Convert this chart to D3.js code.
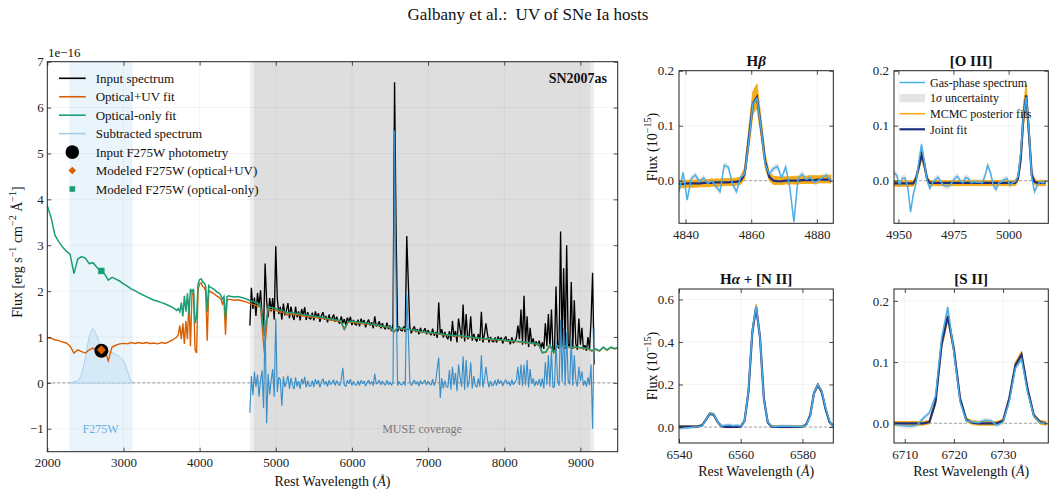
<!DOCTYPE html>
<html><head><meta charset="utf-8">
<script src="https://cdn.jsdelivr.net/npm/d3@7/dist/d3.min.js"></script>
<style>
html,body{margin:0;padding:0;background:#fff;}
svg{display:block;}
text{font-family:"Liberation Serif","Times New Roman",serif;}
</style></head>
<body>
<svg id="chart" width="1056" height="497"></svg>
<script>
// ================= DATA =================
// Main panel: model fits on a shared wavelength grid (Angstrom)
const fitWave = [].concat(d3.range(2000, 3701, 50), d3.range(3720, 4401, 20), d3.range(4450, 9501, 50));
const fitOptUV = [
  0.98,0.97,0.94,0.92,0.89,0.87,0.80,0.65,0.72,0.68,
  0.65,0.72,0.76,0.70,0.72,0.74,0.48,0.78,0.82,0.85,
  0.86,0.85,0.88,0.86,0.88,0.86,0.88,0.86,0.87,0.85,
  0.88,0.86,0.90,0.94,1.00,
  1.05,1.25,0.95,1.30,0.85,1.35,0.95,1.80,0.80,1.95,
  1.95,0.72,0.65,2.05,2.15,2.18,2.10,2.08,2.00,0.92,
  2.02,1.98,1.97,1.95,1.93,1.90,1.88,1.86,1.82,1.72,
  1.80,1.05,1.80,1.82,1.82,
  1.80,1.81,1.79,1.77,1.74,1.71,1.68,1.65,0.65,1.61,
  1.59,1.58,1.55,1.53,1.48,1.51,1.49,1.48,1.46,1.45,
  1.44,1.43,1.42,1.41,1.40,1.38,1.36,1.35,1.34,1.16,
  1.32,1.32,1.31,1.30,1.29,1.28,1.27,1.26,1.24,1.23,
  1.22,1.21,1.10,1.19,1.18,1.17,1.16,1.14,1.13,1.11,
  1.10,1.09,1.08,1.07,1.06,1.05,1.04,1.03,1.02,1.02,
  1.01,1.00,0.99,0.98,0.97,0.96,0.95,0.95,0.94,0.94,
  0.93,0.92,0.91,0.91,0.90,0.89,0.88,0.87,0.86,0.85,
  0.84,0.65,0.67,0.82,0.65,0.80,0.79,0.79,0.78,0.77,
  0.77,0.76,0.75,0.74,0.69,0.73,0.69,0.77,0.71,0.77,
  0.74,0.76
];
const fitOptOnly = [
  3.86,3.60,3.22,3.08,2.96,2.87,2.80,2.38,2.70,2.75,
  2.72,2.60,2.62,2.52,2.44,2.38,2.24,2.30,2.26,2.22,
  2.16,2.11,2.05,2.01,1.96,1.92,1.88,1.84,1.80,1.78,
  1.75,1.72,1.68,1.64,1.58,
  1.62,1.55,1.75,1.45,1.90,1.55,1.95,1.50,2.05,1.98,
  2.05,1.30,1.45,2.15,2.25,2.27,2.20,2.18,2.10,1.55,
  2.12,2.08,2.07,2.05,2.03,1.99,1.97,1.95,1.90,1.82,
  1.88,1.40,1.88,1.90,1.89,
  1.87,1.88,1.86,1.84,1.80,1.77,1.74,1.70,1.02,1.66,
  1.64,1.62,1.59,1.57,1.52,1.54,1.52,1.51,1.49,1.48,
  1.47,1.46,1.44,1.43,1.42,1.40,1.38,1.37,1.36,1.18,
  1.34,1.34,1.33,1.32,1.31,1.30,1.28,1.27,1.25,1.24,
  1.23,1.22,1.12,1.20,1.19,1.18,1.17,1.15,1.14,1.12,
  1.11,1.10,1.09,1.08,1.07,1.06,1.05,1.04,1.03,1.03,
  1.02,1.01,1.00,0.99,0.98,0.97,0.96,0.96,0.95,0.95,
  0.94,0.93,0.92,0.92,0.91,0.90,0.89,0.88,0.87,0.86,
  0.85,0.66,0.68,0.83,0.66,0.81,0.80,0.80,0.79,0.78,
  0.78,0.77,0.76,0.75,0.70,0.74,0.70,0.78,0.72,0.78,
  0.75,0.77
];
// MUSE spectrum sampled every 20 A from 4660 A (units 1e-16)
const specStart = 4660, specStep = 20;
const inputSpectrum = [
  1.25,2.07,1.61,1.86,1.46,1.96,1.68,2.02,1.47,1.15,
  2.60,1.79,1.43,1.85,1.56,1.85,1.38,2.98,1.84,1.50,
  1.66,1.38,1.73,1.47,1.58,1.74,1.41,1.66,1.47,1.37,
  1.66,1.43,1.56,1.36,1.61,1.47,1.65,1.37,1.54,1.41,
  1.39,1.53,1.36,1.56,1.42,1.52,1.33,1.47,1.54,1.38,
  1.46,1.32,1.49,1.36,1.41,1.49,1.33,1.44,1.34,1.29,
  1.45,1.30,1.39,1.26,1.42,1.33,1.44,1.26,1.37,1.28,
  1.26,1.38,1.23,1.40,1.29,1.37,1.21,1.32,1.38,1.25,
  1.32,1.19,1.45,1.23,1.27,1.34,1.19,1.30,1.21,1.17,
  1.31,1.17,1.25,1.13,1.28,6.55,3.30,1.12,1.23,1.15,
  1.13,1.23,1.11,3.20,2.20,1.22,1.08,1.17,1.23,1.11,
  1.17,1.06,1.20,1.09,1.13,1.19,1.06,1.15,1.08,1.04,
  1.18,1.03,1.11,0.98,1.75,1.06,1.17,0.99,1.11,1.01,
  0.95,1.13,0.91,1.35,1.00,1.13,0.88,1.40,1.17,0.97,
  1.71,0.90,1.50,0.95,1.03,1.45,0.92,1.07,0.96,0.90,
  1.07,0.92,1.55,0.88,1.05,1.30,1.06,0.88,1.00,0.91,
  0.89,0.99,0.88,1.01,0.92,0.99,0.86,0.95,1.01,0.90,
  0.95,0.84,0.99,0.87,0.91,0.98,1.25,0.95,1.60,0.83,
  1.90,0.84,1.45,0.78,1.20,0.86,0.97,0.80,0.90,0.82,
  0.92,0.75,0.88,0.74,1.30,0.80,1.50,0.76,1.60,0.72,
  0.70,2.10,0.86,0.75,3.30,0.82,2.50,0.74,3.00,0.85,
  0.76,2.20,0.74,1.80,0.85,0.72,1.40,0.83,1.20,0.73,
  0.82,0.70,1.00,0.74,1.35,2.40,0.40
];
const subtractedSpectrum = [
  -0.65,0.15,-0.27,0.24,-0.09,0.18,-0.30,0.06,0.27,-0.55,
  1.35,-0.88,0.20,-0.25,0.05,0.30,-0.30,1.40,-0.20,0.12,
  0.07,-0.50,0.14,-0.09,0.02,0.16,-0.13,0.11,-0.05,-0.14,
  0.12,-0.08,0.04,-0.13,0.09,-0.03,0.13,-0.10,0.05,-0.07,
  -0.07,0.05,-0.09,0.08,-0.03,0.06,-0.10,0.02,0.09,-0.04,
  0.03,-0.08,0.06,-0.04,0.01,0.07,-0.06,0.05,-0.02,-0.06,
  0.07,0.33,-0.05,-0.08,0.06,-0.02,0.08,-0.06,0.03,-0.04,
  -0.05,0.04,-0.06,0.06,-0.02,0.04,-0.07,0.01,0.06,-0.03,
  0.03,-0.06,0.20,-0.03,0.01,0.06,-0.04,0.04,-0.02,-0.05,
  0.06,-0.04,0.02,-0.06,0.04,5.50,2.00,-0.06,0.03,-0.04,
  -0.04,0.03,-0.06,1.95,1.10,0.04,-0.06,0.01,0.06,-0.03,
  0.03,-0.07,0.05,-0.03,0.01,0.06,-0.05,0.04,-0.02,-0.05,
  0.08,-0.06,0.03,0.30,0.55,-0.33,0.10,-0.12,0.05,-0.08,
  -0.10,0.28,-0.15,0.35,-0.05,0.22,-0.18,0.40,0.12,-0.08,
  0.58,-0.15,0.50,-0.10,0.05,0.45,-0.12,0.15,-0.05,-0.10,
  0.10,-0.08,0.60,-0.10,0.08,0.35,0.07,-0.10,0.04,-0.06,
  -0.05,0.06,-0.06,0.08,-0.02,0.05,-0.07,0.02,0.07,-0.03,
  0.03,-0.07,0.07,-0.04,0.01,0.06,0.35,-0.05,0.40,-0.07,
  0.40,-0.05,0.50,-0.10,0.30,-0.02,0.10,-0.07,0.04,-0.05,
  0.08,-0.08,0.10,-0.12,0.45,-0.04,0.60,-0.08,0.70,-0.10,
  -0.08,0.90,0.05,-0.06,1.38,0.02,1.20,-0.07,1.10,0.04,
  -0.03,0.95,-0.06,0.60,0.06,-0.08,0.35,0.04,0.25,-0.06,
  0.05,-0.08,0.12,-0.05,0.40,-1.00,1.20
];
// F275W filter throughput (scaled) and shaded regions
const filterWave = [2300,2350,2400,2450,2500,2550,2600,2650,2700,2750,2800,2850,2900,2950,3000,3050,3100,3130];
const filterThroughput = [0,0.02,0.05,0.20,0.55,1.00,1.18,1.02,0.80,0.72,0.69,0.66,0.62,0.57,0.48,0.27,0.05,0];
const filterBand = [2290, 3120];
const museBand = [4660, 9182];
const museCore = [4713, 9135];
// Photometry point
const photWave = 2710;
const photInput = 0.70, photOptUV = 0.72, photOptOnly = 2.44;
// Main ticks
const mainXTicks = [2000,3000,4000,5000,6000,7000,8000,9000];
const mainYTicks = [-1,0,1,2,3,4,5,6,7];

// Emission-line panels (units 1e-15), sampled every 1.25 A
const lineStep = 1.25;
const hbStart = 4838.0;
const hbGas   = [-0.020,0.015,-0.035,0.004,0.010,-0.002,0.005,-0.005,0.000,-0.010,-0.020,0.028,0.025,-0.005,-0.020,0.006,0.012,0.070,0.140,0.150,0.095,0.030,0.012,0.022,0.026,0.005,0.025,-0.012,-0.075,0.004,0.012,0.002,0.006,-0.003,0.000,0.006,0.010,-0.002];
const hbJoint = [-0.006,-0.006,-0.005,-0.005,-0.005,-0.005,-0.004,-0.004,-0.004,-0.003,-0.003,-0.003,-0.003,-0.002,-0.002,0.000,0.012,0.075,0.140,0.152,0.095,0.035,0.007,0.000,-0.001,-0.001,0.000,0.000,0.000,0.000,0.001,0.001,0.001,0.001,0.002,0.002,0.002,0.002];
const hbLo    = [-0.013,-0.013,-0.012,-0.012,-0.012,-0.011,-0.011,-0.011,-0.010,-0.010,-0.010,-0.009,-0.009,-0.009,-0.008,-0.007,0.003,0.058,0.120,0.133,0.080,0.024,0.000,-0.007,-0.007,-0.007,-0.006,-0.006,-0.006,-0.006,-0.005,-0.005,-0.005,-0.005,-0.004,-0.004,-0.004,-0.004];
const hbHi    = [0.000,0.000,0.001,0.001,0.001,0.002,0.002,0.002,0.003,0.003,0.003,0.004,0.004,0.004,0.005,0.007,0.024,0.094,0.162,0.176,0.114,0.047,0.015,0.008,0.007,0.007,0.007,0.007,0.008,0.008,0.008,0.008,0.009,0.009,0.009,0.009,0.010,0.010];

const o3Start = 4948.0;
const o3Gas   = [0.014,0.010,-0.008,0.004,0.005,-0.012,-0.057,-0.025,-0.005,0.035,0.066,0.035,0.000,-0.014,-0.004,0.002,0.006,-0.002,-0.008,-0.010,-0.009,-0.004,0.004,0.008,0.000,-0.004,0.006,0.004,-0.004,-0.002,-0.003,-0.003,-0.004,0.008,0.028,0.015,-0.008,-0.016,-0.004,-0.002,0.002,0.004,-0.008,-0.004,-0.002,0.008,0.050,0.120,0.152,0.090,0.005,-0.020,-0.008,-0.002,-0.004,-0.003];
const o3Joint = [-0.005,-0.005,-0.005,-0.005,-0.005,-0.005,-0.005,-0.005,0.004,0.025,0.047,0.030,0.004,-0.004,-0.004,-0.004,-0.004,-0.004,-0.004,-0.004,-0.004,-0.004,-0.004,-0.004,-0.004,-0.004,-0.004,-0.004,-0.004,-0.004,-0.004,-0.004,-0.004,-0.004,-0.004,-0.004,-0.004,-0.004,-0.004,-0.004,-0.004,-0.004,-0.004,-0.004,-0.004,0.004,0.040,0.120,0.155,0.085,0.010,-0.002,-0.004,-0.004,-0.004,-0.004];
const o3Lo    = [-0.010,-0.010,-0.010,-0.010,-0.010,-0.010,-0.010,-0.010,-0.002,0.018,0.038,0.022,-0.002,-0.009,-0.009,-0.009,-0.009,-0.009,-0.009,-0.009,-0.009,-0.009,-0.009,-0.009,-0.009,-0.009,-0.009,-0.009,-0.009,-0.009,-0.009,-0.009,-0.009,-0.009,-0.009,-0.009,-0.009,-0.009,-0.009,-0.009,-0.009,-0.009,-0.009,-0.009,-0.009,-0.002,0.030,0.100,0.135,0.070,0.003,-0.007,-0.009,-0.009,-0.009,-0.009];
const o3Hi    = [0.000,0.000,0.000,0.000,0.000,0.000,0.000,0.000,0.008,0.032,0.058,0.038,0.008,0.000,0.000,0.000,0.000,0.000,0.000,0.000,0.000,0.000,0.000,0.000,0.000,0.000,0.000,0.000,0.000,0.000,0.000,0.000,0.000,0.000,0.000,0.000,0.000,0.000,0.000,0.000,0.000,0.000,0.000,0.000,0.000,0.009,0.055,0.140,0.175,0.100,0.018,0.003,0.000,0.000,0.000,0.000];

const haStart = 6540.0;
const haGas   = [-0.005,-0.005,-0.004,-0.002,0.000,0.002,0.005,0.035,0.065,0.060,0.025,0.004,0.008,0.010,0.006,0.008,0.004,0.030,0.170,0.450,0.570,0.420,0.130,0.025,0.004,0.002,0.004,0.005,0.004,0.004,0.002,0.002,0.003,0.010,0.050,0.160,0.200,0.170,0.090,0.030,0.000];
const haJoint = [0.002,0.002,0.002,0.002,0.002,0.003,0.008,0.035,0.063,0.058,0.024,0.004,0.001,0.001,0.001,0.001,0.002,0.030,0.165,0.445,0.565,0.420,0.135,0.022,0.002,0.001,0.001,0.001,0.001,0.001,0.001,0.001,0.002,0.012,0.055,0.160,0.198,0.165,0.085,0.025,0.004];
const haLo    = [-0.002,-0.002,-0.002,-0.002,-0.002,-0.001,0.004,0.030,0.058,0.053,0.020,0.000,-0.003,-0.003,-0.003,-0.003,-0.002,0.024,0.155,0.432,0.552,0.408,0.126,0.017,-0.002,-0.003,-0.003,-0.003,-0.003,-0.003,-0.003,-0.003,-0.002,0.008,0.049,0.152,0.190,0.158,0.079,0.020,0.000];
const haHi    = [0.006,0.006,0.006,0.006,0.006,0.007,0.012,0.040,0.068,0.063,0.028,0.008,0.005,0.005,0.005,0.005,0.006,0.036,0.175,0.458,0.578,0.432,0.144,0.027,0.006,0.005,0.005,0.005,0.005,0.005,0.005,0.005,0.006,0.016,0.061,0.168,0.206,0.172,0.091,0.030,0.008];

const s2Start = 6707.5;
const s2Gas   = [0.000,-0.003,-0.004,-0.005,-0.003,0.008,0.017,0.045,0.140,0.190,0.115,0.035,0.004,0.002,0.001,0.005,0.004,-0.003,0.002,0.035,0.090,0.105,0.050,0.012,0.001,0.000];
const s2Joint = [0.000,0.000,0.000,0.000,0.000,0.000,0.002,0.035,0.130,0.175,0.120,0.040,0.006,0.001,0.000,0.000,0.000,0.000,0.004,0.040,0.095,0.112,0.055,0.013,0.002,0.000];
const s2Lo    = [-0.003,-0.003,-0.003,-0.003,-0.003,-0.003,-0.001,0.030,0.122,0.168,0.114,0.036,0.003,-0.002,-0.003,-0.003,-0.003,-0.003,0.001,0.036,0.090,0.106,0.051,0.010,-0.001,-0.003];
const s2Hi    = [0.003,0.003,0.003,0.003,0.003,0.003,0.005,0.040,0.138,0.182,0.126,0.044,0.009,0.004,0.003,0.003,0.003,0.003,0.007,0.044,0.100,0.118,0.059,0.016,0.005,0.003];

// 1-sigma uncertainty of the gas-phase spectrum per panel (Hb, [OIII], Ha, [SII])
const gasErr = [0.006, 0.006, 0.008, 0.004];

// ================= DRAWING =================
const svg = d3.select('#chart');
const FONT = '"Liberation Serif","Times New Roman",serif';
const C = {black:'#000', orange:'#d95f02', green:'#1b9e77', blue:'#3a8fc8', legBlue:'#a6cde6',
           gas:'#4aaee8', navy:'#1f2f7d', mcmc:'#f5a70a', band:'#e4e4e4', frame:'#222'};

function rich(t, parts, fs) {
  let shift = 0;
  parts.forEach(p => {
    const ts = t.append('tspan').text(p.t);
    const target = p.sup ? -0.42 * fs : 0;
    if (target !== shift) { ts.attr('dy', target - shift); shift = target; }
    if (p.sup) ts.attr('font-size', fs * 0.72);
    if (p.i) ts.attr('font-style', 'italic');
    if (p.b) ts.attr('font-weight', 'bold');
  });
}
const minusFmt = f => d => { const s = f(d); return s.replace('-', '\u2212'); };

function drawGrid(g, x, y, xt, yt) {
  const [x0, x1] = x.range(), [yb, yt0] = y.range();
  const grid = g.append('g');
  grid.selectAll('line.gx').data(xt).join('line').attr('x1', d => x(d)).attr('x2', d => x(d))
    .attr('y1', yt0).attr('y2', yb).attr('stroke', '#000').attr('stroke-opacity', 0.055).attr('stroke-width', 0.8);
  grid.selectAll('line.gy').data(yt).join('line').attr('y1', d => y(d)).attr('y2', d => y(d))
    .attr('x1', x0).attr('x2', x1).attr('stroke', '#000').attr('stroke-opacity', 0.055).attr('stroke-width', 0.8);
  return grid;
}
function drawTicks(g, x, y, xt, yt, xfmt, yfmt, padX, padY) {
  const [x0, x1] = x.range(), [yb, yt0] = y.range();
  const style = a => { a.attr('font-family', FONT).attr('font-size', 13).attr('color', C.frame);
    a.select('.domain').remove(); a.selectAll('line').attr('stroke-width', 0.8); };
  g.append('g').attr('transform', `translate(0,${yb})`)
    .call(d3.axisBottom(x).tickValues(xt).tickSize(-4).tickPadding(padX).tickFormat(xfmt)).call(style);
  g.append('g').attr('transform', `translate(0,${yt0})`)
    .call(d3.axisTop(x).tickValues(xt).tickSize(-4).tickFormat('')).call(style);
  g.append('g').attr('transform', `translate(${x0},0)`)
    .call(d3.axisLeft(y).tickValues(yt).tickSize(-4).tickPadding(padY).tickFormat(yfmt)).call(style);
  g.append('g').attr('transform', `translate(${x1},0)`)
    .call(d3.axisRight(y).tickValues(yt).tickSize(-4).tickFormat('')).call(style);
  g.append('rect').attr('x', x0).attr('y', yt0).attr('width', x1 - x0).attr('height', yb - yt0)
    .attr('fill', 'none').attr('stroke', C.frame).attr('stroke-width', 1);
}
const diamondPath = s => `M0,${-s}L${s},0L0,${s}L${-s},0Z`;

// Title
svg.append('text').attr('x', 528).attr('y', 20).attr('text-anchor', 'middle').attr('font-size', 17)
  .attr('fill', '#111').text('Galbany et al.:\u00a0 UV of SNe Ia hosts');

// ---------- main panel ----------
const M = {l: 47.3, r: 617.7, t: 61.7, b: 451.7};
const xM = d3.scaleLinear().domain([2000, 9490]).range([M.l, M.r]);
const yM = d3.scaleLinear().domain([-1.5, 7]).range([M.b, M.t]);
svg.append('clipPath').attr('id', 'clipMain').append('rect')
  .attr('x', M.l).attr('y', M.t).attr('width', M.r - M.l).attr('height', M.b - M.t);
const gMain = svg.append('g');
const pMain = gMain.append('g').attr('clip-path', 'url(#clipMain)');

pMain.append('rect').attr('x', xM(filterBand[0])).attr('width', xM(filterBand[1]) - xM(filterBand[0]))
  .attr('y', M.t).attr('height', M.b - M.t).attr('fill', '#eaf4fb');
pMain.append('rect').attr('x', xM(museBand[0])).attr('width', xM(museBand[1]) - xM(museBand[0]))
  .attr('y', M.t).attr('height', M.b - M.t).attr('fill', '#eeeeee');
pMain.append('rect').attr('x', xM(museCore[0])).attr('width', xM(museCore[1]) - xM(museCore[0]))
  .attr('y', M.t).attr('height', M.b - M.t).attr('fill', '#dedede');
drawGrid(pMain, xM, yM, mainXTicks, mainYTicks);
pMain.append('line').attr('x1', M.l).attr('x2', M.r).attr('y1', yM(0)).attr('y2', yM(0))
  .attr('stroke', '#8a8a8a').attr('stroke-width', 0.9).attr('stroke-dasharray', '3,2');

// filter curve
pMain.append('path').datum(filterThroughput)
  .attr('d', d3.area().curve(d3.curveMonotoneX).x((v, i) => xM(filterWave[i])).y0(yM(0)).y1(v => yM(v)))
  .attr('fill', '#d6e9f7').attr('stroke', '#a9d0ec').attr('stroke-width', 1);

const specWave = inputSpectrum.map((_, i) => specStart + specStep * i);
const lineMain = (wv) => d3.line().x((v, i) => xM(wv[i])).y(v => yM(v));
pMain.append('path').datum(inputSpectrum).attr('d', lineMain(specWave))
  .attr('fill', 'none').attr('stroke', C.black).attr('stroke-width', 1.35).attr('stroke-linejoin', 'bevel');
pMain.append('path').datum(fitOptUV).attr('d', lineMain(fitWave))
  .attr('fill', 'none').attr('stroke', C.orange).attr('stroke-width', 1.4);
pMain.append('path').datum(fitOptOnly).attr('d', lineMain(fitWave))
  .attr('fill', 'none').attr('stroke', C.green).attr('stroke-width', 1.5);
pMain.append('path').datum(subtractedSpectrum).attr('d', lineMain(specWave))
  .attr('fill', 'none').attr('stroke', C.blue).attr('stroke-width', 1.15).attr('stroke-linejoin', 'bevel');

// photometry markers
pMain.append('circle').attr('cx', xM(photWave)).attr('cy', yM(photInput)).attr('r', 7).attr('fill', '#000');
pMain.append('path').attr('transform', `translate(${xM(photWave)},${yM(photOptUV)})`)
  .attr('d', diamondPath(4.6)).attr('fill', C.orange);
pMain.append('rect').attr('x', xM(photWave) - 3.2).attr('y', yM(photOptOnly) - 3.2)
  .attr('width', 6.4).attr('height', 6.4).attr('fill', C.green);

drawTicks(gMain, xM, yM, mainXTicks, mainYTicks, d3.format('d'), minusFmt(d3.format('d')), 6, 3.5);

// annotations
gMain.append('text').attr('x', xM(2700)).attr('y', 433).attr('text-anchor', 'middle').attr('font-size', 12)
  .attr('fill', '#6aaede').text('F275W');
gMain.append('text').attr('x', xM(6920)).attr('y', 433).attr('text-anchor', 'middle').attr('font-size', 12)
  .attr('fill', '#7a7a7a').text('MUSE coverage');
gMain.append('text').attr('x', 607).attr('y', 83).attr('text-anchor', 'end').attr('font-size', 14)
  .attr('font-weight', 'bold').attr('fill', '#111').text('SN2007as');
gMain.append('text').attr('x', 48).attr('y', 57).attr('font-size', 13).attr('fill', '#111').text('1e\u221216');

// axis labels
rich(gMain.append('text').attr('x', (M.l + M.r) / 2).attr('y', 486).attr('text-anchor', 'middle').attr('font-size', 14).attr('fill', '#111'),
  [{t: 'Rest Wavelength ('}, {t: 'Å', i: true}, {t: ')'}], 14);
rich(gMain.append('text').attr('transform', 'translate(21.5,252) rotate(-90)').attr('text-anchor', 'middle').attr('font-size', 14).attr('fill', '#111'),
  [{t: 'Flux [erg s'}, {t: '\u22121', sup: true}, {t: ' cm'}, {t: '\u22122', sup: true}, {t: ' Å'}, {t: '\u22121', sup: true}, {t: ']'}], 14);

// legend
const legendMain = [
  {label: 'Input spectrum', kind: 'line', color: C.black},
  {label: 'Optical+UV fit', kind: 'line', color: C.orange},
  {label: 'Optical-only fit', kind: 'line', color: C.green},
  {label: 'Subtracted spectrum', kind: 'line', color: C.legBlue},
  {label: 'Input F275W photometry', kind: 'circle', color: '#000'},
  {label: 'Modeled F275W (optical+UV)', kind: 'diamond', color: C.orange},
  {label: 'Modeled F275W (optical-only)', kind: 'square', color: C.green}
];
const lg = gMain.append('g');
legendMain.forEach((it, i) => {
  const yy = 78.3 + 18.45 * i;
  if (it.kind === 'line') lg.append('line').attr('x1', 59).attr('x2', 85.7).attr('y1', yy).attr('y2', yy).attr('stroke', it.color).attr('stroke-width', 1.6);
  if (it.kind === 'circle') lg.append('circle').attr('cx', 72.3).attr('cy', yy).attr('r', 6.8).attr('fill', it.color);
  if (it.kind === 'diamond') lg.append('path').attr('transform', `translate(72.3,${yy})`).attr('d', diamondPath(3.8)).attr('fill', it.color);
  if (it.kind === 'square') lg.append('rect').attr('x', 69.5).attr('y', yy - 2.8).attr('width', 5.6).attr('height', 5.6).attr('fill', it.color);
  lg.append('text').attr('x', 95.7).attr('y', yy).attr('dy', '0.35em').attr('font-size', 13).attr('fill', '#111').text(it.label);
});

// ---------- line panels ----------
const panelLayout = [
  {key: 'hb', x0: 679, x1: 833.3, y0: 70.7, y1: 223.3, xd: [4838, 4885], yd: [-0.0775, 0.2], xt: [4840, 4860, 4880], yt: [0, 0.1, 0.2], ylab: true, xlab: false,
   title: [{t: 'H', b: true}, {t: 'β', b: true, i: true}]},
  {key: 'o3', x0: 894, x1: 1048.3, y0: 70.7, y1: 223.3, xd: [4948, 5018], yd: [-0.0775, 0.2], xt: [4950, 4975, 5000], yt: [0, 0.1, 0.2], ylab: false, xlab: false,
   title: [{t: '[O III]', b: true}]},
  {key: 'ha', x0: 679, x1: 833.3, y0: 289, y1: 443, xd: [6540, 6590], yd: [-0.075, 0.649], xt: [6540, 6560, 6580], yt: [0, 0.2, 0.4, 0.6], ylab: true, xlab: true,
   title: [{t: 'H', b: true}, {t: 'α', b: true, i: true}, {t: ' + [N II]', b: true}]},
  {key: 's2', x0: 894, x1: 1048.3, y0: 289, y1: 443, xd: [6707.8, 6739.2], yd: [-0.0322, 0.2194], xt: [6710, 6720, 6730], yt: [0, 0.1, 0.2], ylab: false, xlab: true,
   title: [{t: '[S II]', b: true}]}
];
const panelData = [
  {start: hbStart, gas: hbGas, joint: hbJoint, lo: hbLo, hi: hbHi, err: gasErr[0]},
  {start: o3Start, gas: o3Gas, joint: o3Joint, lo: o3Lo, hi: o3Hi, err: gasErr[1]},
  {start: haStart, gas: haGas, joint: haJoint, lo: haLo, hi: haHi, err: gasErr[2]},
  {start: s2Start, gas: s2Gas, joint: s2Joint, lo: s2Lo, hi: s2Hi, err: gasErr[3]}
];

panelLayout.forEach((cfg, k) => {
  const d = panelData[k];
  const x = d3.scaleLinear().domain(cfg.xd).range([cfg.x0, cfg.x1]);
  const y = d3.scaleLinear().domain(cfg.yd).range([cfg.y1, cfg.y0]);
  const g = svg.append('g');
  const cid = 'clip-' + cfg.key;
  svg.append('clipPath').attr('id', cid).append('rect').attr('x', cfg.x0).attr('y', cfg.y0)
    .attr('width', cfg.x1 - cfg.x0).attr('height', cfg.y1 - cfg.y0);
  const p = g.append('g').attr('clip-path', `url(#${cid})`);
  drawGrid(p, x, y, cfg.xt, cfg.yt);
  p.append('line').attr('x1', cfg.x0).attr('x2', cfg.x1).attr('y1', y(0)).attr('y2', y(0))
    .attr('stroke', '#9a9a9a').attr('stroke-width', 0.9).attr('stroke-dasharray', '3,2');
  const wave = d.gas.map((_, i) => d.start + lineStep * i);
  p.append('path').datum(d.gas)
    .attr('d', d3.area().x((v, i) => x(wave[i])).y0(v => y(v - d.err)).y1(v => y(v + d.err)))
    .attr('fill', C.band);
  p.append('path').datum(d.lo)
    .attr('d', d3.area().x((v, i) => x(wave[i])).y0(v => y(v)).y1((v, i) => y(d.hi[i])))
    .attr('fill', C.mcmc).attr('stroke', C.mcmc).attr('stroke-width', 1).attr('opacity', 0.95);
  p.append('path').datum(d.joint).attr('d', d3.line().x((v, i) => x(wave[i])).y(v => y(v)))
    .attr('fill', 'none').attr('stroke', C.navy).attr('stroke-width', 2.2);
  p.append('path').datum(d.gas).attr('d', d3.line().x((v, i) => x(wave[i])).y(v => y(v)))
    .attr('fill', 'none').attr('stroke', C.gas).attr('stroke-width', 1.5);
  drawTicks(g, x, y, cfg.xt, cfg.yt, d3.format('d'), minusFmt(d3.format('.1f')), 6.5, 5);
  rich(g.append('text').attr('x', (cfg.x0 + cfg.x1) / 2).attr('y', cfg.y0 - 5).attr('text-anchor', 'middle')
    .attr('font-size', 15).attr('fill', '#111'), cfg.title, 15);
  if (cfg.ylab) rich(g.append('text').attr('transform', `translate(657,${(cfg.y0 + cfg.y1) / 2}) rotate(-90)`)
    .attr('text-anchor', 'middle').attr('font-size', 14).attr('fill', '#111'),
    [{t: 'Flux (10'}, {t: '\u221215', sup: true}, {t: ')'}], 14);
  if (cfg.xlab) rich(g.append('text').attr('x', (cfg.x0 + cfg.x1) / 2).attr('y', 476).attr('text-anchor', 'middle')
    .attr('font-size', 14).attr('fill', '#111'), [{t: 'Rest Wavelength ('}, {t: 'Å', i: true}, {t: ')'}], 14);
});

// legend in [O III] panel
const legendLines = [
  {label: [{t: 'Gas-phase spectrum'}], kind: 'line', color: C.gas, w: 1.5},
  {label: [{t: '1'}, {t: 'σ', i: true}, {t: ' uncertainty'}], kind: 'patch', color: C.band},
  {label: [{t: 'MCMC posterior fits'}], kind: 'line', color: C.mcmc, w: 1.5},
  {label: [{t: 'Joint fit'}], kind: 'line', color: C.navy, w: 2.2}
];
const lg2 = svg.append('g');
legendLines.forEach((it, i) => {
  const yy = 82.5 + 15.6 * i;
  if (it.kind === 'line') lg2.append('line').attr('x1', 899.5).attr('x2', 925).attr('y1', yy).attr('y2', yy).attr('stroke', it.color).attr('stroke-width', it.w);
  else lg2.append('rect').attr('x', 899.5).attr('y', yy - 4.2).attr('width', 25.5).attr('height', 8.4).attr('fill', it.color);
  rich(lg2.append('text').attr('x', 930).attr('y', yy).attr('dy', '0.35em').attr('font-size', 12).attr('fill', '#111'), it.label, 12);
});
</script>
</body></html>
